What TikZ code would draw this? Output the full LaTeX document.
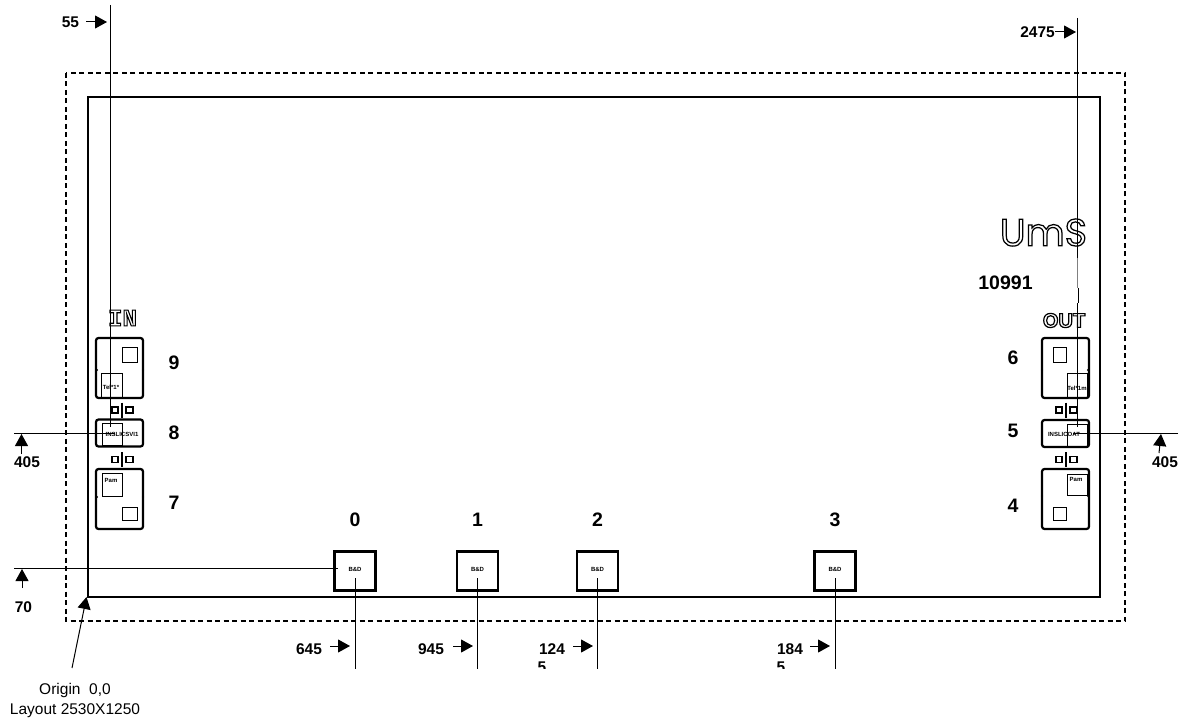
\documentclass[tikz,border=0pt]{standalone}
\usepackage{fontspec}
\usepackage{graphicx}
\setmainfont{Liberation Sans}
\newfontfamily\logofont{Poppins}
\newfontfamily\slabfont{Liberation Mono}
\newcommand{\outlined}[2]{\special{pdf:code q #1 w 1 Tr}#2\special{pdf:code Q}}
\usetikzlibrary{arrows.meta}
\tikzset{
  x=1pt,y=-1pt,
  dim/.style={draw=black,line width=1pt},
  arr/.style={draw=black,line width=1pt,-{Triangle[length=12pt,width=13pt]}},
  padbox/.style={draw=black,line width=2.2pt,rounded corners=2.5pt,fill=none,inner sep=0pt},
  smallpad/.style={draw=black,line width=2.6pt,inner sep=0pt,minimum width=41pt,minimum height=39pt},
  inner/.style={draw=black,line width=0.9pt},
  num/.style={font=\bfseries\fontsize{19.5}{20}\selectfont,inner sep=0pt},
  dimtxt/.style={font=\bfseries\fontsize{15.5}{16}\selectfont,inner sep=0pt},
  tiny/.style={font=\bfseries\fontsize{6}{6}\selectfont,inner sep=0pt}
}
\begin{document}
\begin{tikzpicture}
\useasboundingbox (0,0) rectangle (1184,722);
% outlines
\draw[line width=1.5pt,dash pattern=on 5pt off 3.5pt] (66,73) rectangle (1125,621);
\draw[line width=1.4pt] (88,97) rectangle (1100,597);
% bottom pads
\foreach \n/\x/\l in {0/355/0,1/477.5/1,2/597.5/2,3/835/3}{
  \node[smallpad] (pad\n) at (\x,571) {};
  \node[tiny] (padt\n) at (\x,569) {B\&D};
  \node[num] (lab\n) at (\x,520) {\l};
}
% side pads
\node[padbox,minimum width=47pt,minimum height=60pt] (p9) at (119.5,368) {};
\node[padbox,minimum width=47pt,minimum height=27pt] (p8) at (119.5,433) {};
\node[padbox,minimum width=47pt,minimum height=60pt] (p7) at (119.5,499) {};
\node[padbox,minimum width=47pt,minimum height=60pt] (p6) at (1065.5,368) {};
\node[padbox,minimum width=47pt,minimum height=27pt] (p5) at (1065.5,433.5) {};
\node[padbox,minimum width=47pt,minimum height=60pt] (p4) at (1065.5,499) {};
% edge marks
\foreach \x/\y in {97/370,143/370,97/497,143/497,1042/370,1088/370,1042/496,1088/496}{
  \fill (\x,\y) circle (1.2pt);
}
% inner squares
\draw[inner] (122,347) rectangle (137,362);
\draw[inner] (101,373) rectangle (122,397);
\draw[inner] (102,423) rectangle (122,445);
\draw[inner] (102,473) rectangle (122,496);
\draw[inner] (122,507) rectangle (137,520);
\draw[inner] (1053,347) rectangle (1066,362);
\draw[inner] (1067,373) rectangle (1087,397);
\draw[inner] (1067,424) rectangle (1087,447);
\draw[inner] (1067,474) rectangle (1087,495);
\draw[inner] (1053,507) rectangle (1066,520);
% tiny labels
\node[tiny] (t9) at (111,387) {Tel*1*};
\node[tiny] (t8) at (122,434) {INSLICSVI1};
\node[tiny] (t7) at (111,480) {Pam};
\node[tiny] (t6) at (1077,388) {Tel*1m};
\node[tiny] (t5) at (1064,434) {INSLICOAT};
\node[tiny] (t4) at (1076,479) {Pam};
% connectors between pads
\foreach \x/\y in {122/410,122/459.5,1066/410,1066/459.5}{
  \draw[line width=2pt] (\x,\y-7.5) -- (\x,\y+7.5);
  \draw[line width=1.2pt] (\x-10,\y-3) rectangle (\x-4,\y+3);
  \draw[line width=1.2pt] (\x+4,\y-3) rectangle (\x+11,\y+3);
}
% titles
\node[font=\slabfont\bfseries\fontsize{24}{24}\selectfont,inner sep=0pt] (inlab) at (122.5,318) {\outlined{1.1}{IN}};
\node[font=\bfseries\fontsize{20}{20}\selectfont,inner sep=0pt] (outlab) at (1064,320.5) {\outlined{1.2}{OUT}};
\node[inner sep=0pt] (umsf) at (1043.5,232.5) {\resizebox{87pt}{27pt}{\logofont\fontsize{40}{40}\selectfont\outlined{1.3}{UmS}}};
\node[num] (cn) at (1005.5,283) {10991};
% numbers
\node[num] (n9) at (174,363) {9};
\node[num] (n8) at (174,433) {8};
\node[num] (n7) at (174,503) {7};
\node[num] (n6) at (1013,358) {6};
\node[num] (n5) at (1013,431) {5};
\node[num] (n4) at (1013,506) {4};
% dimension lines
\coordinate (a1) at (110,5); \coordinate (a2) at (110,427);
\draw[dim] (a1) -- (a2);
\coordinate (b1) at (1077,18); \coordinate (b2) at (1077,258);
\draw[dim] (b1) -- (b2);
\coordinate (b3) at (1077,303); \coordinate (b4) at (1077,427);
\draw[dim] (b3) -- (b4);
\draw[line width=0.5pt,gray] (b2) -- (1077,288);
\draw[line width=1.2pt] (1078.5,288) -- (1078.5,303);
\coordinate (c1) at (14,433); \coordinate (c2) at (115,433);
\draw[dim] (c1) -- (c2);
\coordinate (d1) at (1178,433); \coordinate (d2) at (1073,433);
\draw[dim] (d1) -- (d2);
\coordinate (e1) at (14,568); \coordinate (e2) at (338,568);
\draw[dim] (e1) -- (e2);
\foreach \x in {355,477.5,597.5,835}{
  \coordinate (v1) at (\x,578); \coordinate (v2) at (\x,669);
  \draw[dim] (v1) -- (v2);
}
% arrows with labels
\node[dimtxt] (l55) at (70.5,22) {55};
\coordinate (l55a) at (86,22); \coordinate (l55b) at (107,22);
\draw[arr] (l55a) -- (l55b);
\node[dimtxt] (l2475) at (1037.5,32) {2475};
\coordinate (ra) at (1055,32); \coordinate (rb) at (1076,32);
\draw[arr] (ra) -- (rb);
\node[dimtxt] (l645) at (309,649) {645};
\draw[arr] (330,646) -- (350,646);
\node[dimtxt] (l945) at (431,649) {945};
\draw[arr] (453,646) -- (473,646);
\node[dimtxt] (l1245) at (552,649) {124};
\begin{scope}
\clip (530,658) rectangle (600,668);
\node[dimtxt] (l1245b) at (542,667) {5};
\end{scope}
\draw[arr] (573,646) -- (593,646);
\node[dimtxt] (l1845) at (790,649) {184};
\begin{scope}
\clip (770,658) rectangle (830,668);
\node[dimtxt] (l1845b) at (781,667) {5};
\end{scope}
\draw[arr] (810,646) -- (830,646);
\draw[arr] (21.5,454) -- (21.5,434);
\node[dimtxt] (l405a) at (27,462) {405};
\draw[arr] (1159,453) -- (1161,434);
\node[dimtxt] (l405b) at (1165,462) {405};
\draw[arr] (22,588) -- (22,569);
\node[dimtxt] (l70) at (23.5,607) {70};
\draw[arr] (72,668) -- (86.5,597);
\node[font=\fontsize{15.5}{20}\selectfont,inner sep=0pt,align=center] (orig) at (75,700) {Origin\ \ 0,0\\Layout 2530X1250};
\end{tikzpicture}
\end{document}
